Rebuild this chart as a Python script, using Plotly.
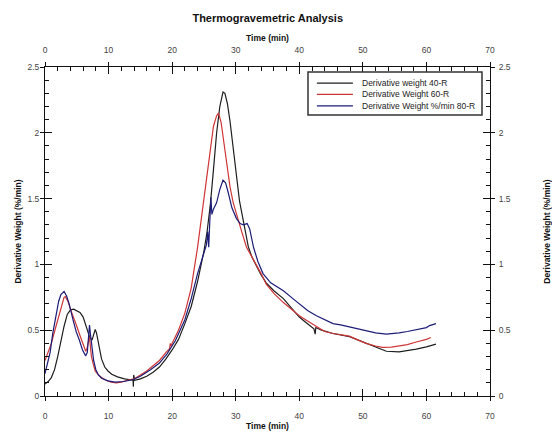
import plotly.graph_objects as go

# ---- data ----
t_40 = [0, 0.5, 1, 1.5, 2, 2.5, 3, 3.5, 4, 4.5, 5, 5.5, 6, 6.5, 7, 7.4, 7.7, 7.9, 8.1, 8.4, 8.9, 9.4, 9.9,
        10.5, 11.4, 12.5, 13.5, 13.85, 13.9, 13.95, 14.1, 15, 16, 17, 18, 19, 20, 21, 22, 23, 24, 25, 25.5,
        26, 26.5, 27, 27.5, 28, 28.3, 28.7, 29.1, 29.6, 30.1, 30.6, 31.2, 32, 32.6, 33.3, 34, 34.8, 36, 37.5,
        39, 40, 41, 42.3, 42.5, 42.6, 43.5, 45.3, 46.5, 47.9, 49, 50.5, 52, 53.7, 55.7, 57, 58.4, 60, 61.5]
w_40 = [0.09, 0.11, 0.14, 0.2, 0.3, 0.42, 0.53, 0.62, 0.655, 0.66, 0.645, 0.635, 0.6, 0.52, 0.45, 0.425, 0.48,
        0.505, 0.48, 0.4, 0.28, 0.22, 0.19, 0.165, 0.145, 0.13, 0.12, 0.12, 0.07, 0.16, 0.12, 0.13, 0.15, 0.18,
        0.22, 0.28, 0.35, 0.43, 0.55, 0.68, 0.87, 1.1, 1.25, 1.45, 1.72, 2.0, 2.2, 2.31, 2.3, 2.22, 2.09, 1.88,
        1.66, 1.48, 1.33, 1.13, 1.05, 0.98, 0.92, 0.86, 0.8, 0.74, 0.66, 0.6, 0.56, 0.51, 0.47, 0.52, 0.5,
        0.475, 0.465, 0.45, 0.43, 0.40, 0.37, 0.34, 0.336, 0.343, 0.356, 0.373, 0.394]

t_60 = [0, 0.5, 1, 1.5, 2, 2.5, 3, 3.2, 3.6, 4, 4.5, 5, 5.5, 6, 6.4, 6.6, 6.8, 7.0, 7.15, 7.3, 7.6, 7.9, 8.4,
        8.9, 9.6, 10.4, 11.2, 12, 13, 14, 15, 16, 17, 18, 19, 19.6, 19.7, 19.8, 20.5, 21, 22, 23, 24, 25, 25.5,
        26, 26.5, 27, 27.3, 27.7, 28.1, 28.6, 29.1, 29.6, 30.1, 31, 31.7, 32.5, 33.3, 34, 34.8, 36, 37.5, 39,
        40, 41.3, 42.7, 44, 45.3, 46.5, 47.9, 49, 50.5, 52, 53.1, 54.5, 55.7, 57, 58.4, 60, 60.7]
w_60 = [0.27, 0.33, 0.4, 0.49, 0.58, 0.68, 0.75, 0.755, 0.72, 0.66, 0.6, 0.53, 0.46, 0.39, 0.34, 0.36, 0.41,
        0.45, 0.37, 0.3, 0.24, 0.19, 0.16, 0.14, 0.12, 0.105, 0.1, 0.105, 0.12, 0.13, 0.16, 0.19, 0.23, 0.27,
        0.33, 0.36, 0.4, 0.38, 0.45, 0.5, 0.63, 0.82, 1.13, 1.5, 1.7, 1.9, 2.05, 2.13, 2.15, 2.08, 1.94, 1.76,
        1.59, 1.47, 1.38, 1.24, 1.13, 1.06, 1.0, 0.93, 0.85, 0.78, 0.71, 0.65, 0.61, 0.57, 0.53, 0.49, 0.475,
        0.465, 0.455, 0.43, 0.40, 0.38, 0.37, 0.372, 0.38, 0.39, 0.41, 0.43, 0.445]

t_80 = [0, 0.4, 0.8, 1.2, 1.6, 2.15, 2.5, 2.8, 3.0, 3.4, 3.8, 4.4, 4.9, 5.4, 5.9, 6.4, 6.65, 6.85, 7.0, 7.15,
        7.25, 7.45, 7.65, 8.0, 8.4, 8.9, 9.9, 11, 12.4, 13.9, 15, 16.6, 18, 19.2, 20.5, 22, 23, 24, 25, 25.4,
        25.6, 25.75, 25.9, 26.1, 26.25, 26.5, 27, 27.5, 28, 28.4, 28.8, 29.4, 30.1, 30.7, 31.2, 31.8, 32.2,
        32.8, 33.5, 34.3, 35.5, 37.5, 39, 40, 41.3, 42.7, 44, 45.3, 46.5, 47.9, 49, 50.5, 52, 53.7, 55, 55.7,
        57, 58.4, 60, 60.5, 61.5]
w_80 = [0.17, 0.25, 0.33, 0.47, 0.58, 0.72, 0.77, 0.79, 0.795, 0.76, 0.7, 0.58, 0.49, 0.425, 0.35, 0.305,
        0.33, 0.45, 0.54, 0.47, 0.43, 0.34, 0.27, 0.2, 0.16, 0.135, 0.115, 0.105, 0.11, 0.125, 0.15, 0.2, 0.25,
        0.32, 0.42, 0.58, 0.74, 0.93, 1.08, 1.15, 1.25, 1.13, 1.3, 1.51, 1.38, 1.42, 1.47, 1.57, 1.64, 1.62,
        1.55, 1.43, 1.35, 1.31, 1.30, 1.31, 1.27, 1.13, 1.02, 0.93, 0.86, 0.80, 0.74, 0.70, 0.65, 0.61, 0.58,
        0.55, 0.54, 0.525, 0.51, 0.495, 0.48, 0.47, 0.475, 0.48, 0.49, 0.505, 0.52, 0.535, 0.55]

names = ["Derivative weight 40-R", "Derivative Weight 60-R", "Derivative Weight %/min 80-R"]
colors = ["#1e1e1e", "#d03535", "#1c1c78"]

x_ticks = [0, 10, 20, 30, 40, 50, 60, 70]
y_ticks = [0, 0.5, 1, 1.5, 2, 2.5]
y_labels = ["0", "0.5", "1", "1.5", "2", "2.5"]

FONT = "Liberation Sans, Arial, sans-serif"

fig = go.Figure()
for t, w, n, c in zip([t_40, t_60, t_80], [w_40, w_60, w_80], names, colors):
    fig.add_trace(go.Scatter(x=t, y=w, mode="lines", name=n, line=dict(color=c, width=1.2),
                             showlegend=False))

# dummy traces to create overlay axes
for k in ["2", "3", "4"]:
    fig.add_trace(go.Scatter(x=[0, 70], y=[0, 2.5], xaxis="x" + k, yaxis="y" + k, mode="markers",
                             marker=dict(opacity=0), showlegend=False, hoverinfo="skip"))

# ---- legend drawn as a framed box (paper coordinates) ----
shapes = [dict(type="rect", xref="paper", yref="paper", x0=0.591, x1=0.982, y0=0.854, y1=0.985,
               line=dict(color="#333", width=1.5), fillcolor="white", layer="above")]
annotations = []
row_y = [0.951, 0.917, 0.882]
for n, c, yy in zip(names, colors, row_y):
    shapes.append(dict(type="line", xref="paper", yref="paper", x0=0.611, x1=0.692, y0=yy, y1=yy,
                       line=dict(color=c, width=1.2), layer="above"))
    annotations.append(dict(text=n, xref="paper", yref="paper", x=0.708, y=yy, xanchor="left",
                            yanchor="middle", showarrow=False,
                            font=dict(family=FONT, size=8.5, color="#222")))

tickfont = dict(family=FONT, size=8.5, color="#444")
titlefont = dict(family=FONT, size=8.5, color="#111")

xbase = dict(range=[0, 70], tickvals=x_ticks, showgrid=False, zeroline=False, showline=True,
             linecolor="#111", linewidth=1, tickcolor="#111", fixedrange=True, automargin=False)
ybase = dict(range=[0, 2.5], tickvals=y_ticks, ticktext=y_labels, showgrid=False, zeroline=False,
             showline=True, linecolor="#111", linewidth=1, tickcolor="#111", fixedrange=True,
             automargin=False)

fig.update_layout(
    width=552, height=432,
    margin=dict(l=45, r=62, t=67, b=36),
    paper_bgcolor="white", plot_bgcolor="white",
    title=dict(text="<b>Thermogravemetric Analysis</b>", x=0.485, xanchor="center", y=0.958,
               yanchor="middle", font=dict(family=FONT, size=11, color="#111")),
    xaxis=dict(**xbase, side="bottom", anchor="y", ticks="inside", ticklen=7, tickfont=tickfont,
               ticklabelstandoff=12,
               minor=dict(dtick=2, ticks="inside", ticklen=4, tickcolor="#111"),
               title=dict(text="<b>Time (min)</b>", font=titlefont, standoff=2)),
    xaxis2=dict(**xbase, side="top", anchor="y", overlaying="x", ticks="inside", ticklen=7,
                tickfont=tickfont, ticklabelstandoff=10,
                minor=dict(dtick=2, ticks="inside", ticklen=4, tickcolor="#111"),
                title=dict(text="<b>Time (min)</b>", font=titlefont, standoff=1)),
    xaxis3=dict(**xbase, side="bottom", anchor="y", overlaying="x", ticks="outside", ticklen=4,
                showticklabels=False),
    xaxis4=dict(**xbase, side="top", anchor="y", overlaying="x", ticks="outside", ticklen=4,
                showticklabels=False),
    yaxis=dict(**ybase, side="left", anchor="x", ticks="inside", ticklen=7, tickfont=tickfont,
               ticklabelstandoff=3,
               minor=dict(dtick=0.1, ticks="inside", ticklen=4, tickcolor="#111"),
               title=dict(text="<b>Derivative Weight (%/min)</b>", font=titlefont, standoff=4)),
    yaxis2=dict(**ybase, side="right", anchor="x", overlaying="y", ticks="inside", ticklen=7,
                tickfont=tickfont, ticklabelstandoff=6,
                minor=dict(dtick=0.1, ticks="inside", ticklen=4, tickcolor="#111"),
                title=dict(text="<b>Derivative Weight (%/min)</b>", font=titlefont, standoff=39)),
    yaxis3=dict(**ybase, side="left", anchor="x", overlaying="y", ticks="outside", ticklen=4,
                showticklabels=False),
    yaxis4=dict(**ybase, side="right", anchor="x", overlaying="y", ticks="outside", ticklen=4,
                showticklabels=False),
    shapes=shapes,
    annotations=annotations,
    showlegend=False,
)

fig.write_html("out.html", config={"displayModeBar": False},
               post_script="document.body.style.margin='0';")
